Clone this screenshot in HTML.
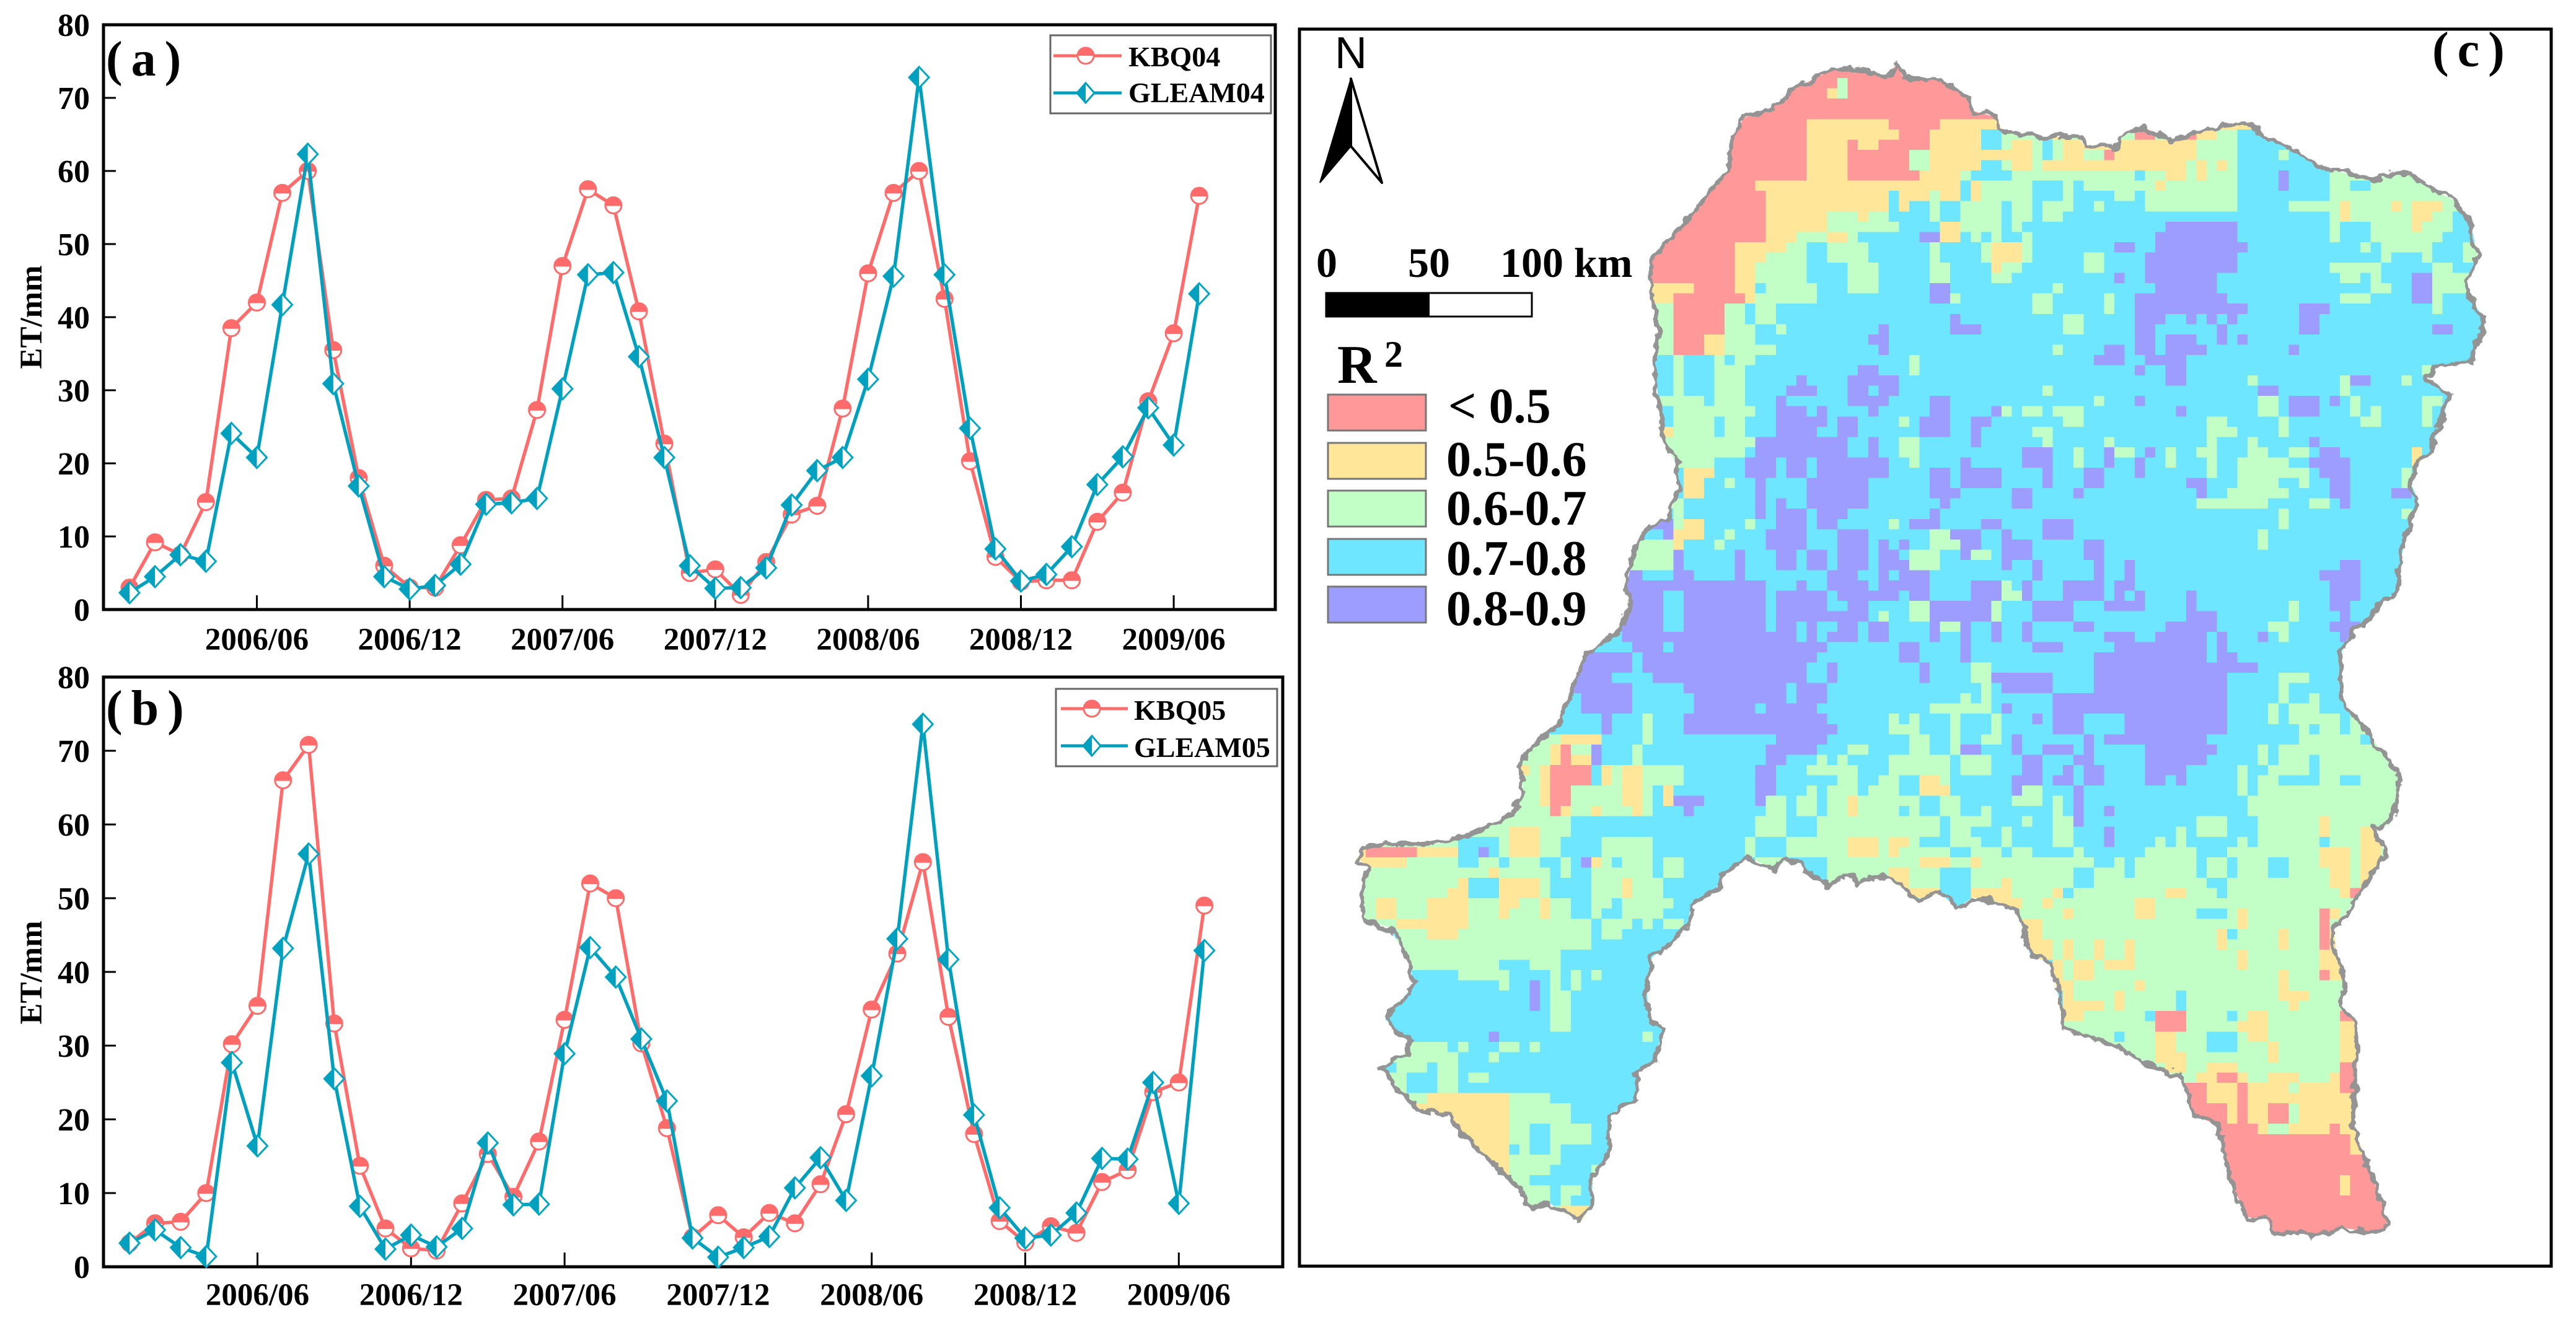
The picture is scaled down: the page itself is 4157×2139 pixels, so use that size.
<!DOCTYPE html>
<html lang="en">
<head>
<meta charset="utf-8">
<title>ET comparison and R2 map</title>
<style>
html,body{margin:0;padding:0;background:#fff;width:4157px;height:2139px;overflow:hidden}
svg{display:block}
text{font-family:"Liberation Serif",serif;font-weight:bold;fill:#000}
</style>
</head>
<body>
<svg id="figure" xmlns="http://www.w3.org/2000/svg" width="4157" height="2139" viewBox="0 0 4157 2139">
<defs>
<filter id="rough" filterUnits="userSpaceOnUse" x="2000" y="0" width="2157" height="2139">
<feTurbulence type="fractalNoise" baseFrequency="0.045" numOctaves="3" seed="4"/>
<feDisplacementMap in="SourceGraphic" scale="20" xChannelSelector="R" yChannelSelector="G"/>
</filter>
<clipPath id="basin-clip"><polygon id="basin-clip-shape" points="0,0"/></clipPath>
</defs>
<rect width="4157" height="2139" fill="#fff"/>

<g id="panel-a"></g>
<g id="panel-b"></g>

<g><text x="171" y="122" font-size="80" word-spacing="-6">( a )</text></g>
<g><text x="171" y="1170" font-size="80" word-spacing="-6">( b )</text></g>

<g>
<rect x="1695" y="57" width="356" height="126" fill="#fff" stroke="#666" stroke-width="3"/>
<line x1="1700" x2="1810" y1="90" y2="90" stroke="#FF6B6B" stroke-width="5"/>
<circle cx="1752" cy="90" r="13" fill="#fff" stroke="#FF6B6B" stroke-width="3"/>
<path d="M1739 90a13 13 0 0 1 26 0z" fill="#FF6B6B"/>
<text x="1821" y="107" font-size="46">KBQ04</text>
<line x1="1700" x2="1810" y1="150" y2="150" stroke="#00A0BE" stroke-width="5"/>
<path d="M1752 134L1766 150L1752 166L1738 150Z" fill="#fff" stroke="#00A0BE" stroke-width="3"/>
<path d="M1752 134L1752 166L1738 150Z" fill="#00A0BE"/>
<text x="1821" y="165" font-size="46">GLEAM04</text>
</g>

<g>
<rect x="1704" y="1112" width="357" height="125" fill="#fff" stroke="#666" stroke-width="3"/>
<line x1="1712" x2="1820" y1="1144" y2="1144" stroke="#FF6B6B" stroke-width="5"/>
<circle cx="1762" cy="1144" r="13" fill="#fff" stroke="#FF6B6B" stroke-width="3"/>
<path d="M1749 1144a13 13 0 0 1 26 0z" fill="#FF6B6B"/>
<text x="1830" y="1162" font-size="46">KBQ05</text>
<line x1="1712" x2="1820" y1="1204" y2="1204" stroke="#00A0BE" stroke-width="5"/>
<path d="M1762 1188L1776 1204L1762 1220L1748 1204Z" fill="#fff" stroke="#00A0BE" stroke-width="3"/>
<path d="M1762 1188L1762 1220L1748 1204Z" fill="#00A0BE"/>
<text x="1830" y="1222" font-size="46">GLEAM05</text>
</g>

<g id="panel-c">
<g id="map-cells" clip-path="url(#basin-clip)" shape-rendering="crispEdges"></g>
<path id="basin-outline" fill="none" stroke="#949494" stroke-width="7" stroke-linejoin="round" filter="url(#rough)"/>
<rect x="2097" y="47" width="2020" height="1997" fill="none" stroke="#000" stroke-width="5"/>
<text x="3925" y="107" font-size="80" word-spacing="-6">( c )</text>

<g>
<text x="2154" y="110" font-size="72" style="font-family:'Liberation Sans',sans-serif;font-weight:normal">N</text>
<path d="M2180 127L2230 295L2180 236Z" fill="#fff" stroke="#000" stroke-width="4" stroke-linejoin="round"/>
<path d="M2180 127L2130 295L2180 236Z" fill="#000" stroke="#000" stroke-width="2"/>
</g>

<g>
<text x="2124" y="447" font-size="68">0</text>
<text x="2272" y="447" font-size="68">50</text>
<text x="2421" y="447" font-size="68">100 km</text>
<rect x="2140" y="473" width="332" height="38" fill="#fff" stroke="#000" stroke-width="3"/>
<rect x="2140" y="473" width="167" height="38" fill="#000"/>
</g>

<g>
<text x="2158" y="618" font-size="88">R</text>
<text x="2234" y="592" font-size="60">2</text>
<rect x="2143" y="637" width="158" height="58" fill="#FF9999" stroke="#777" stroke-width="3"/>
<text x="2337" y="682" font-size="80">&lt; 0.5</text>
<rect x="2143" y="715" width="158" height="58" fill="#FFE699" stroke="#777" stroke-width="3"/>
<text x="2334" y="768" font-size="80">0.5-0.6</text>
<rect x="2143" y="792" width="158" height="58" fill="#C2FFC6" stroke="#777" stroke-width="3"/>
<text x="2334" y="847" font-size="80">0.6-0.7</text>
<rect x="2143" y="870" width="158" height="58" fill="#6FE6FF" stroke="#777" stroke-width="3"/>
<text x="2334" y="928" font-size="80">0.7-0.8</text>
<rect x="2143" y="947" width="158" height="58" fill="#9D9DFF" stroke="#777" stroke-width="3"/>
<text x="2334" y="1009" font-size="80">0.8-0.9</text>
</g>
</g>
</svg>

<script>
// ---------- Chart data ----------
const months = ["2006/01","2006/02","2006/03","2006/04","2006/05","2006/06","2006/07","2006/08","2006/09","2006/10","2006/11","2006/12","2007/01","2007/02","2007/03","2007/04","2007/05","2007/06","2007/07","2007/08","2007/09","2007/10","2007/11","2007/12","2008/01","2008/02","2008/03","2008/04","2008/05","2008/06","2008/07","2008/08","2008/09","2008/10","2008/11","2008/12","2009/01","2009/02","2009/03","2009/04","2009/05","2009/06","2009/07"];
const xTickLabels = ["2006/06","2006/12","2007/06","2007/12","2008/06","2008/12","2009/06"];
const yTickValues = [0,10,20,30,40,50,60,70,80];
const kbq04 = [3,9.2,7.5,14.7,38.5,42,57,60,35.5,18,6,3,3,8.8,15,15.2,27.3,47,57.5,55.3,40.8,22.7,5,5.5,2,6.5,13,14.2,27.5,46,57,60,42.5,20.3,7.2,3.8,4,4,12,16,28.5,37.8,56.6];
const gleam04 = [2.3,4.5,7.5,6.6,24.1,20.8,41.7,62.3,30.9,16.9,4.5,2.8,3.3,6.2,14.4,14.6,15.2,30.2,45.8,46.1,34.6,20.8,6,2.9,3,5.7,14.3,19,20.8,31.5,45.6,72.8,45.8,24.8,8.3,3.9,4.8,8.6,17.1,20.9,27.6,22.5,43.2];
const kbq05 = [3.2,5.9,6.1,10,30.2,35.4,66,70.8,33,13.7,5.2,2.5,2.2,8.6,15.3,9.5,17,33.5,52,50,30.3,18.8,4,7,4,7.3,5.9,11.2,20.7,34.9,42.5,54.9,33.9,18,6.2,3.3,5.5,4.6,11.5,13.1,23.7,25,49];
const gleam05 = [3.2,5,2.6,1.4,27.7,16.4,43.2,56,25.5,8.2,2.4,4.3,2.7,5.2,16.8,8.4,8.5,28.9,43.3,39.3,30.9,22.5,3.9,1.3,2.6,4.1,10.7,14.8,9,25.9,44.5,73.6,41.7,20.6,8,3.9,4.3,7.3,14.7,14.6,25,8.6,42.9];

// ---------- Map data: R2 class per raster row, run-length coded as class letter + starting cell ----------
const r2Classes = {r:"#FF9999",y:"#FFE699",g:"#C2FFC6",c:"#6FE6FF",p:"#9D9DFF"};
const mapRuns = [
"r0","r0","r0 g47 r48","r0 y46 g47 r48","r0","r0",
"r0 y44 r52 y57",
"r0 y44 r53 y56 c61 g63 y68 g69 r76 g78 r81 y82 g84 c86",
"r0 y44 r48 y49 r51 y56 c61 g63 y64 g66 c67 g68 y69 g82 c86",
"r0 y44 r48 g54 y56 g66 c67 g68 y69 g71 r73 y74 g82 c86 g90 c91",
"r0 y44 r48 g54 y56 c61 g63 y64 g66 y67 g81 y82 g83 y84 g85 c86",
"r0 y44 r48 y55 g59 c60 g64 c76 g77 y79 g81 y82 g83 c86 p90 c91 g95",
"r0 y39 c59 y60 g61 c66 g69 c70 g71 y78 g79 c86 p90 c91 g95 c97 g99",
"r0 y40 c52 y53 g56 y57 c59 y60 g61 c66 g69 c70 g74 c76 g77 c86 g95",
"r0 y40 c52 y53 c54 g56 c57 g59 c63 g64 c66 g67 c70 g72 c73 g77 c86 g91 y96 g97 y101 g102 y103 g106",
"r0 y40 g46 y49 g50 c52 g56 c57 g59 c63 g64 c66 g67 c69 g95 y96 g97 y103 g105 c107",
"r0 y40 g46 c53 y57 g59 c63 g64 c65 p79 c86 g95 c96 g99 y103 g104 c107",
"r0 y40 g43 y46 g48 c49 p55 y57 c59 g60 c61 g62 c63 g65 c66 p78 c86 g95 c96 g99 c106",
"r0 y37 g42 c44 g46 c50 g56 c57 g61 y62 g65 c66 p74 c76 p78 c87 g98 c99 g100 c105 g108",
"r0 y37 g40 c44 g46 c50 g56 c57 g61 y62 g65 c66 g71 c73 p77 c86 g100 c101 g104 c105 g108",
"r0 y37 g39 c44 g48 c51 g56 c58 y62 g63 c65 g71 c73 p77 c86 g95 c100 g105 c107",
"r0 y37 g39 c44 g48 c51 g56 c58 g62 c64 p74 c75 p77 c84 g96 c98 g99 c100 p103 g105",
"y0 r33 y37 c39 g40 c45 g48 c51 p56 c58 g68 c69 p78 c84 g99 c101 p103 g105",
"y0 r31 y38 g39 c45 p56 g58 c59 g66 c68 g73 c74 p76 c85 g96 c99 p103 g105 c106",
"g0 r31 g36 c38 g39 c41 g66 c68 g73 c74 p76 c87 p92 c95 g105 c106",
"g0 r31 g36 c38 g39 c41 p58 c59 g69 c71 p76 c79 p81 c82 p83 c84 p85 c86 p92 c94",
"g0 r31 g36 c39 g41 c42 p51 c52 p58 c61 g69 c71 p76 c78 p84 c85 p92 c94 p105 c107",
"g0 r31 y34 g36 c39 p50 c52 p76 c78 p79 c82 p84 c85 p86 c87",
"g0 r31 y34 g36 c41 p51 c52 g68 c69 p73 c75 p76 c78 p79 c83 p91 c92",
"c0 g31 c32 g35 c36 g37 c39 g54 c55 p72 c75 p77 c81",
"c0 g31 c32 g35 c38 p49 c51 g54 c55 p76 c77 p79 c81 g104",
"c0 g31 c32 g35 c38 p43 c44 p48 c53 p79 c81 g87 c88 g96 p97 c99 g102 c103",
"c0 g31 c32 g35 c38 p42 c45 p48 c50 p51 c53 g67 c68 p88 c90 g96 c97",
"g0 c34 g35 c38 p41 c42 p48 c52 p56 c58 g72 c73 p76 c77 g88 c90 p91 c94 p95 c96 g97 c98 g104 c106",
"c0 g31 c39 p41 c44 p45 c46 p50 c51 p56 c58 p62 g63 c64 g65 c67 g68 c71 p80 c81 g88 c90 p91 c94 g97 c98 g99 c100 g104 c105",
"c0 g31 c35 g36 c38 p41 c46 p47 c49 g53 c54 p55 c58 p60 c62 g69 c71 g83 c85 g90 c91 g98 c100 g104 c105",
"y0 g31 c35 g36 c38 p41 c45 p47 c49 p55 c58 p60 c61 g66 c68 g83 c86 g90 c91",
"g0 p39 c48 p50 c51 g53 c55 p60 c61 g67 c68 g73 c74 g83 c84 g87 c88 p93 c94",
"g0 c38 p39 c48 p50 c51 g53 c55 p65 c68 g70 c71 p73 g74 c76 p77 c78 g79 c80 g82 c84 g87 c89 g91 c93 p94 c96 y103 c104",
"g0 c35 p38 c41 p42 c44 p45 c52 g54 c55 p59 c60 p65 c68 g70 c71 p73 c74 p76 c77 g79 c80 g83 c84 g86 c91 p93 c97 y103 c104",
"c0 y32 c35 p38 c41 p42 c44 p45 c52 p56 c58 p59 c63 p67 c68 p71 c73 p76 c77 g83 c84 g86 c93 p94 c97 g102 c103",
"c0 y32 c34 g36 c37 p39 c40 p44 c50 p56 c58 p59 c63 p67 c68 p71 c73 p81 c83 g86 c90 g92 c93 p95 c97 g102 c103",
"c0 y32 c34 p39 c40 p44 c50 p56 c59 p64 c66 p70 c71 p82 c83 g85 c91 p95 c97 p101 c103",
"g0 c32 p39 c40 p41 c42 p44 c50 p57 c58 p64 c66 g82 c89 g93 c95 p96 c97",
"c0 g31 c32 p39 c40 p41 c44 p45 c48 p56 c57 g90 c91 g102 c103",
"p0 g31 y32 c34 g38 c39 p41 c44 p45 c47 g52 c53 p54 c57 p61 c63 p67 c70 g90 c91",
"c0 p30 y31 c34 g36 c37 p40 c44 p47 c50 g56 p58 c61 p63 c64 p67 c70 g88 c89",
"g0 y31 c32 g35 c36 p40 c44 p47 c50 p51 c52 p53 c54 g56 p59 c61 p63 c66 p71 c73 g88 c89",
"g0 p31 c32 p37 c38 p41 c43 p44 c46 p47 c50 p51 c53 g54 c57 p59 g60 c62 p63 c66 p71 c73",
"g0 p31 c32 p37 c38 p41 c43 p44 c46 p47 c50 p51 g54 c57 p63 c64 p66 c67 p72 c73 p75 c76 p96 c98",
"p0 c28 p31 c33 p37 c38 p46 c49 p51 c52 p53 c56 p66 c67 p72 c73 p75 c76 p94 c98",
"p0 c40 p43 c44 p46 c50 p51 c56 p60 g63 c64 p65 c66 p69 c73 p74 c76 p95 c98",
"p0 c30 p32 c40 p41 c46 p47 c53 p54 c56 p60 g63 p65 c66 p69 c73 p74 c75 p76 c77 p81 c82 p95 c98",
"p0 c30 p32 c40 p41 c46 p48 c50 g54 p56 g62 c63 p66 c70 p73 c77 p81 c82 g91 c92 p95 c97",
"p0 c30 p32 c40 p41 c50 g51 c52 g54 p56 g62 c63 p66 c70 p81 c84 g91 c92 p96 c97",
"p0 c30 p32 c40 p41 c43 p44 c45 p47 c49 p50 c52 p56 g57 p59 c60 p62 c63 p65 c66 p70 c72 p79 c84 g89 c91 p95 c98",
"c0 p26 c43 p44 c45 p46 c49 p50 c52 p56 c57 p59 c60 p62 c63 p65 c66 p73 c76 p78 c83 p84 c85 p88 c89 g90 c91 p96 c97",
"c0 p27 c30 p31 c46 p53 c55 p59 c60 p66 c69 p74 c83 p84 c85",
"p0 c27 p28 c45 p53 c55 p59 c60 p72 c83 p84 c86",
"p0 c27 p28 c44 p46 c47 p55 c56 g60 c62 p72 c88",
"p0 c25 p29 c44 p46 c47 p55 c56 g60 p62 c68 p72 c85 g90 c93",
"p0 c27 p32 c42 p43 c46 g61 c62 p63 c68 p72 c85 g90 c91",
"c0 p22 c27 p33 c42 p43 c46 g59 c60 g61 c62 p68 c85 g90 c91 g93 c94",
"c0 p22 c27 p33 c39 p40 c45 g56 c62 p63 c64 p68 c85 g89 c90 g91 c94",
"c0 p24 c25 g28 c29 p32 c46 g52 c53 g54 c55 g58 c59 g62 c63 p66 c67 p68 c71 p75 c85 g89 c90 g91 c96 g97",
"c0 p24 c25 g28 c29 p32 c47 g52 c55 g58 c59 g62 c63 p68 c71 p75 c85 g92 c93 g94 c96 g97",
"g0 y20 c24 g28 c29 p41 c46 g54 c56 g58 c59 g61 c63 p64 c65 p71 c72 p73 c83 g92 c98 g99",
"g0 y19 r20 g21 p23 c24 g27 c28 p40 c45 g48 c50 g54 c56 g58 p59 c61 p64 c65 p67 c70 p71 c72 p77 c84 g88 c89 g90",
"g0 y19 r20 y21 p23 c24 g27 c28 p40 c42 g45 c46 g47 c48 g52 c58 g59 c62 p65 c67 p70 c72 p77 c83 g88 c89 g90 c93 g94",
"g0 y16 g17 y18 r19 c23 y24 g25 y26 g28 c32 p39 c41 g44 c49 g52 c58 g59 c62 p65 c67 p69 c70 p71 c73 p77 c81 g86 c87 g89 c93 g94",
"g0 y18 r19 c23 y24 g25 y26 g28 c32 p39 c41 g47 c49 g51 c53 y55 g57 c58 p64 c67 p68 c70 p71 c73 p77 c79 p80 c81 g86 c87 g88 c90 g94 c96 g98",
"g0 y18 r19 g21 y26 g28 c29 y30 c31 p39 c41 g44 c45 g46 c49 g50 c53 y55 c58 p64 g65 c67 p70 c71 g86 c87 g88",
"g0 y18 r19 g21 y26 g28 c29 y30 p31 c34 p39 g40 c42 g43 c45 g46 y48 g49 c55 g57 c59 g64 c67 g68 c69 p70 c71 g87",
"g0 r19 y20 g21 y23 g24 y27 g28 c29 p32 c33 g40 c42 g43 c45 g46 y48 g49 c53 g54 c55 g57 c59 g61 c62 g68 c69 p70 c71 p73 c74 g87",
"g0 c21 g39 c42 g45 c57 g58 c62 g65 c66 g68 p70 c71 g82 c85 g88 y94 g95",
"g0 y15 g18 c21 g39 c42 g45 c57 g58 c60 g63 c64 g68 c70 p73 c74 g80 c81 g82 c85 g88 y94 g95 y98",
"g0 c10 g14 y15 g18 c20 g24 c29 g38 c39 g42 y48 g51 y52 g54 c55 g58 c61 g63 c64 g68 c70 p73 c74 g78 c79 g80 c81 g86 c87 g88 c94 g95 y98",
"y0 r1 y6 c10 p12 c13 g14 y15 g18 c20 g24 c29 g38 c39 g42 y48 g51 y52 g53 c58 g60 c63 g64 c66 g70 c71 g77 c82 g85 y94 g97 y98 g100",
"y0 g5 c10 g12 c14 g15 c18 g20 c21 p22 y23 g24 c25 g26 c29 g30 c32 g39 c42 g46 y55 g58 y60 g61 c72 g74 c75 g76 c82 g83 c85 g86 c89 g91 y94 g97 y98 g100",
"g0 y13 g14 c19 g20 c21 g23 c29 g30 c32 g46 y52 g54 c57 g60 c70 g72 c75 g76 c82 g83 c85 g86 c89 g91 y95 g97 y98 g100",
"g0 y10 c11 y14 g18 c19 g23 y26 g27 c30 g46 y52 g54 c57 g60 y63 g64 c70 g72 c83 g85 y95 g97 y98 g99",
"g0 y9 c11 y14 g18 c19 g23 y26 g27 c30 g46 y54 c57 y60 g64 y68 c69 g70 y79 g81 c84 g85 y96 r97",
"g0 y2 g4 y7 g11 y14 g16 y18 g19 c21 g23 c25 g26 c31 y60 g65 y67 g68 y76 g78",
"g0 y2 g4 y7 g11 y14 g15 y18 g19 c21 g23 c24 g26 c30 g46 y69 g70 y76 g78 c82 g85 y86 g87 r94 y95 g96",
"g0 y4 g11 c23 g24 c27 g28 c29 g30 c32 y65 g67 y86 g87 r94 g95",
"c0 g4 y7 g10 c23 g24 c26 y65 g67 y84 c85 g86 y90 g91 r94 y95",
"g0 c23 y65 g68 y69 g70 y72 g73 y75 g76 y84 g85 y90 g91 r94 y95",
"g0 c20 y66 g68 y69 g70 y72 g73 y75 g76 y86 g87 y94",
"g0 c14 g17 c20 y68 g69 y70 g72 y73 g76 y86 g87 y94",
"c0 g10 c15 g19 c20 g21 c22 g23 c24 y68 g69 y70 g72 y90 g91 r94 y95",
"c0 g14 c15 p17 c18 g19 c20 g21 c22 y68 g70 y76 g77 y90 g91",
"c0 p17 c18 g19 c21 y69 g70 y74 g75 c80 g81 y90 g93",
"c0 p17 c18 g19 c21 y69 g73 y74 g75 c80 g81 y91 g92",
"c0 g19 c21 y68 g71 c77 r78 g81 c85 g86 y87 g89 r96",
"c0 g19 c21 g69 r78 g81 y86 g89 y96",
"c0 p13 c14 g28 c29 g70 c74 g75 y78 g80 c83 g86 y87 g89 y96",
"g0 c9 g10 c11 g14 c16 g17 c18 g70 y78 g80 c83 g86 y89 g90 y96",
"g0 c10 g13 c14 g70 y78 g81 y89 g90 y96",
"c0 g4 c7 g8 c10 g70 y79 g81 y83 g86 r96",
"g0 c5 g8 c10 g11 c13 g70 y82 r84 y86 g87 y89 g92 y95 r96",
"g0 c5 g8 c10 r70 y83 r86 y87 g91 y92 r96",
"g0 y7 g15 c19 r70 y83 r86 y87",
"y0 g15 c21 r70 y85 r86 y87 r89 g91 y92",
"y0 g15 c21 r70 y85 r86 y87 r89 g91 y92",
"y0 g15 c17 g19 c23 r70 y88 g89 y91 r95 y96",
"y0 g15 c17 g19 c23 r70 y97",
"y0 c15 g16 c17 g19 c20 r70 y97",
"y0 g15 c20 r70",
"y0 g15 c19 g23 r70",
"g0 c17 g23 r70 y96 r97",
"g0 c19 g20 c22 r70 y96 r97",
"g0 c19 g20 c21 r70",
"g0 y20 r70",
"y0 r70","y0 r70","y0 r70"
];

// Basin outline vertices, traced clockwise from the northern summit (trace units: x = 0.. across panel, y down)
const outlineNorth = [[640,180],[660,160],[700,165],[720,180],[738,150],[745,185],[790,185],[825,230],[830,260],[860,275],[865,305],[910,320],[960,320],[965,340],[1010,345],[1010,320],[1040,298],[1070,330],[1130,300],[1170,285],[1185,320],[1230,360],[1260,395],[1320,420],[1355,400],[1390,440],[1420,470],[1440,530],[1448,600],[1435,660],[1440,700],[1455,745],[1450,790],[1440,850],[1395,860],[1385,890],[1415,925],[1400,1000],[1390,1060],[1370,1095],[1365,1130],[1375,1170],[1365,1220],[1355,1300],[1350,1385],[1330,1410],[1320,1445],[1295,1475],[1285,1510],[1280,1538]];
const outlineSouth = [[1280,50],[1285,120],[1310,160],[1325,210],[1350,270],[1350,340],[1340,395],[1320,400],[1335,460],[1310,540],[1280,620],[1272,640],[1275,700],[1285,760],[1280,820],[1300,860],[1300,950],[1295,1100],[1315,1200],[1330,1280],[1338,1340],[1320,1350],[1280,1340],[1250,1360],[1220,1350],[1200,1355],[1190,1320],[1165,1315],[1150,1250],[1140,1190],[1130,1100],[1100,1075],[1085,990],[1035,945],[1010,915],[985,905],[940,870],[935,800],[925,720],[900,700],[885,600],[860,575],[830,565],[810,590],[790,555],[760,570],[745,545],[720,510],[690,535],[680,510],[655,535],[630,510],[620,485],[600,480],[585,500],[555,470],[525,510],[515,545],[485,585],[480,630],[455,680],[437,705],[430,760],[433,850],[450,875],[440,950],[418,975],[418,1040],[385,1075],[385,1160],[365,1220],[362,1290],[350,1325],[325,1300],[310,1280],[290,1295],[275,1250],[240,1185],[205,1120],[190,1075],[155,1065],[130,1020],[105,965],[135,930],[140,905],[110,850],[135,795],[145,770],[140,715],[115,635],[85,618],[80,550],[90,490],[75,475],[90,440],[120,440],[185,438],[235,400],[265,375],[280,320],[275,260],[290,210],[325,155],[335,100],[355,0]];
const outlineWest = [[400,1470],[410,1410],[405,1380],[415,1290],[430,1245],[455,1215],[470,1150],[465,1080],[450,1030],[445,940],[440,850],[445,760],[435,680],[435,610],[465,545],[495,480],[530,400],[535,320],[550,275],[580,260],[610,210]];

const SVG_NS = "http://www.w3.org/2000/svg";
function make(parent, tag, attrs, text) {
  const el = document.createElementNS(SVG_NS, tag);
  for (const k in attrs) el.setAttribute(k, attrs[k]);
  if (text !== undefined) el.textContent = text;
  parent.appendChild(el);
  return el;
}

function drawPanel(group, g, kbq, gleam, kbqName, gleamName) {
  const xScale = function (i) { return g.x0 + i * g.step; };
  const yScale = function (v) { return g.y0 - v * g.unit; };

  const frame = make(group, "rect", {x:g.left, y:g.top, width:g.right-g.left, height:g.y0-g.top, fill:"none", stroke:"#000", "stroke-width":5});
  
  

  yTickValues.forEach(function (v) {
    if (v > 0 && v < 80) {
      const t = make(group, "line", {x1:g.left, x2:g.left+20, y1:yScale(v), y2:yScale(v), stroke:"#000", "stroke-width":3});
      
      
    }
    const l = make(group, "text", {x:145, y:yScale(v)+18, "font-size":52, "text-anchor":"end"}, String(v));
    
    
  });

  xTickLabels.forEach(function (label) {
    const i = months.indexOf(label);
    const t = make(group, "line", {x1:xScale(i), x2:xScale(i), y1:g.y0, y2:g.y0-23, stroke:"#000", "stroke-width":3});
    
    
    const l = make(group, "text", {x:xScale(i), y:g.y0+g.labelGap, "font-size":51, "text-anchor":"middle"}, label);
    
    
  });

  const title = make(group, "text", {transform:"translate(67 "+g.titleY+") rotate(-90)", "font-size":51, "text-anchor":"middle"}, "ET/mm");
  
  

  const kbqLine = make(group, "polyline", {points:kbq.map(function (v, i) { return xScale(i)+","+yScale(v); }).join(" "), fill:"none", stroke:"#FF6B6B", "stroke-width":5.5});
  
  
  kbq.forEach(function (v, i) {
    const x = xScale(i), y = yScale(v), r = 13;
    const c = make(group, "circle", {cx:x, cy:y, r:r, fill:"#fff", stroke:"#FF6B6B", "stroke-width":3});
    
    
    const h = make(group, "path", {d:"M"+(x-r)+" "+(y+1)+"a"+r+" "+r+" 0 0 1 "+(2*r)+" 0z", fill:"#FF6B6B"});
    
    
  });

  const gleamLine = make(group, "polyline", {points:gleam.map(function (v, i) { return xScale(i)+","+yScale(v); }).join(" "), fill:"none", stroke:"#00A0BE", "stroke-width":5.5});
  
  
  gleam.forEach(function (v, i) {
    const x = xScale(i), y = yScale(v), w = 16, h = 17;
    const d = make(group, "path", {d:"M"+x+" "+(y-h)+"L"+(x+w)+" "+y+"L"+x+" "+(y+h)+"L"+(x-w)+" "+y+"Z", fill:"#fff", stroke:"#00A8C6", "stroke-width":3});
    
    
    const f = make(group, "path", {d:"M"+x+" "+(y-h)+"L"+x+" "+(y+h)+"L"+(x-w)+" "+y+"Z", fill:"#00A0BE"});
    
    
  });
}

drawPanel(document.getElementById("panel-a"),
  {left:167, right:2058, top:40, y0:984, unit:11.8, x0:209, step:41.1, labelGap:65, titleY:512},
  kbq04, gleam04, "kbq04", "gleam04");
drawPanel(document.getElementById("panel-b"),
  {left:167, right:2070, top:1093, y0:2045, unit:11.9, x0:209, step:41.3, labelGap:62, titleY:1570},
  kbq05, gleam05, "kbq05", "gleam05");

// ---------- Map raster ----------
const cellW = 16.55, rowH = 16.55, gridX = 2187.25, gridY = 93, gridCols = 112;
const cellLayer = document.getElementById("map-cells");
mapRuns.forEach(function (row, r) {
  const runs = row.split(" ").map(function (s) { return {k:s[0], start:parseInt(s.slice(1), 10)}; });
  runs.forEach(function (run, i) {
    const end = i + 1 < runs.length ? runs[i+1].start : gridCols;
    if (end <= run.start) return;
    const cell = make(cellLayer, "rect", {x:gridX + run.start*cellW, y:gridY + r*rowH, width:(end-run.start)*cellW+0.5, height:rowH+0.5, fill:r2Classes[run.k]});
    
    
  });
});

// ---------- Basin boundary ----------
function toPixelNorth(p) { return [2090 + p[0]*1.318, p[1]*0.689]; }
function toPixelSouth(p) { return [2090 + p[0]*1.318, 1060 + p[1]*0.688]; }
const basinPts = outlineNorth.map(toPixelNorth).concat(outlineSouth.map(toPixelSouth), outlineWest.map(toPixelNorth));
const basinStr = basinPts.map(function (p) { return p[0].toFixed(1)+","+p[1].toFixed(1); }).join(" ");
document.getElementById("basin-clip-shape").setAttribute("points", basinStr);
document.getElementById("basin-outline").setAttribute("d", "M" + basinStr.split(" ").join("L") + "Z");
</script>
</body>
</html>
